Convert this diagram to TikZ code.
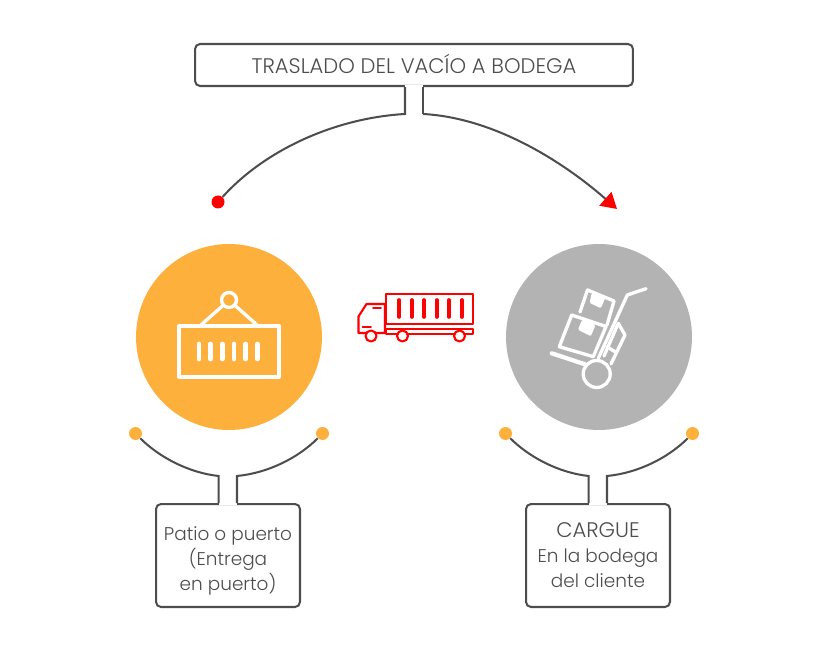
\documentclass[tikz,border=0pt]{standalone}
\usepackage{fontspec}
\setmainfont{Poppins Light}
\usetikzlibrary{arrows.meta}

\definecolor{linegray}{HTML}{4D4D4D}
\definecolor{hubgray}{HTML}{B3B3B3}
\definecolor{huborange}{HTML}{FDB03B}

\tikzset{
	line/.style={draw=linegray,line width=1.15pt},
	gap/.style={draw=white,line width=2pt},
	titlebox/.style={line,rounded corners=0.1cm,minimum width=8.76cm,minimum height=0.84cm,inner sep=0pt,text=linegray,font=\fontsize{12}{14}\selectfont},
	textbox/.style={line,rounded corners=0.1cm,minimum width=2.88cm,minimum height=2.06cm,inner sep=0pt,text=linegray,align=center,font=\fontsize{10.5}{14.2}\selectfont},
	hub/.style={shape=circle,minimum size=3.72cm,inner sep=0pt},
	reddot/.style={shape=circle,fill=red,minimum size=0.26cm,inner sep=0pt},
	orangedot/.style={shape=circle,fill=huborange,minimum size=0.26cm,inner sep=0pt},
	icon/.style={draw=white,line width=1.9pt,line cap=round,line join=round},
	truck/.style={draw=red,line width=1.2pt,line join=round,line cap=round}
}

\begin{document}
\begin{tikzpicture}[x=0.02cm,y=-0.02cm]
	\useasboundingbox (0,0) rectangle (828,651);

	% top box
	\node[titlebox] (title) at (414,65) {\raisebox{1pt}{TRASLADO DEL VACÍO A BODEGA}};
	\node[reddot] (start) at (218,202) {};
	\coordinate (topL) at (405,114);
	\coordinate (topR) at (423,114);
	\coordinate (finish) at (617,209);
	\draw[gap] (topL |- title.south) -- (topR |- title.south);
	\draw[line] (start) .. controls (265,150) and (335,118) .. (topL) -- (topL |- title.south);
	\draw[line] (title.south -| topR) -- (topR);
	\draw[line,-{Triangle[red,length=0.31cm,width=0.36cm]}] (topR) .. controls (497,118) and (567,165) .. (finish);

	% circles
	\node[hub,fill=huborange] (patio) at (229,337) {};
	\node[hub,fill=hubgray] (cargue) at (599,337) {};

	% container
	\draw[icon] (179,326) rectangle (279,377);
	\draw[icon] (229,300) circle [radius=7.5];
	\draw[icon] (201,325) -- (223.5,305);
	\draw[icon] (257,325) -- (234.5,305);
	\foreach \x in {199,210.7,222.3,234,245.7,257.3}
		\draw[icon,line width=2.7pt] (\x,344) -- (\x,359);

	% truck
	\draw[truck] (386,294) rectangle (473,324);
	\draw[truck] (386,329) rectangle (473,334);
	\foreach \x in {399,411.7,424,436.7,449,461.7}
		\draw[truck,line width=2.1pt] (\x,300) -- (\x,317);
	\draw[truck] (385,333) -- (358.5,333) -- (358.5,316.5) -- (366.5,304) -- (385,304) -- cycle;
	\draw[truck,line width=1pt] (373,307.7) -- (381,307.7);
	\draw[truck,line width=1pt] (362.5,326.7) -- (371,326.7);
	\foreach \x in {371,402.5,459.5}
		\draw[truck,fill=white] (\x,336) circle [radius=5.5];

	% hand truck
	\draw[icon] (646,288.7) -- (627.3,295) -- (598.3,358.3);
	\draw[icon] (618.3,323.3) -- (625,335) -- (611,364);
	\draw[icon] (618.3,323.3) -- (604,356);
	\draw[icon] (606.7,346.7) -- (615,351.7);
	\draw[icon] (580,312) -- (587.5,290) -- (614,301) -- (607,325);
	\draw[icon] (571.7,315) -- (606,326.5) -- (593.3,356.7) -- (559.3,346.7) -- cycle;
	\draw[icon,fill=white] (593,295) -- (591.5,302) -- (600,306) -- (603,299) -- cycle;
	\draw[icon,fill=white] (583.3,321.3) -- (580,329) -- (590,334) -- (593.5,325.7) -- cycle;
	\draw[icon,line width=2.4pt] (551.7,353.3) -- (585,364.3);
	\draw[icon,fill=hubgray] (596.7,374) circle [radius=13.5];

	% lower left
	\node[textbox] (patiotext) at (228,555.5) {\rule{0pt}{14pt}Patio o puerto\\(Entrega\\en puerto)};
	\node[orangedot] (patioL) at (135.5,433.5) {};
	\node[orangedot] (patioR) at (322.5,433.5) {};
	\coordinate (patioA) at (218.7,476);
	\coordinate (patioB) at (237,476);
	\draw[gap] (patioA |- patiotext.north) -- (patioB |- patiotext.north);
	\draw[line] (patioL) .. controls (160,458) and (190,473) .. (patioA) -- (patioA |- patiotext.north);
	\draw[line] (patioR) .. controls (298,458) and (268,473) .. (patioB) -- (patioB |- patiotext.north);

	% lower right
	\node[textbox] (carguetext) at (598,555.5) {{\fontsize{12}{14.2}\selectfont CARGUE}\\En la bodega\\del cliente};
	\node[orangedot] (cargueL) at (505.5,433.5) {};
	\node[orangedot] (cargueR) at (692.5,433.5) {};
	\coordinate (cargueA) at (588.7,476);
	\coordinate (cargueB) at (607,476);
	\draw[gap] (cargueA |- carguetext.north) -- (cargueB |- carguetext.north);
	\draw[line] (cargueL) .. controls (530,458) and (560,473) .. (cargueA) -- (cargueA |- carguetext.north);
	\draw[line] (cargueR) .. controls (668,458) and (638,473) .. (cargueB) -- (cargueB |- carguetext.north);
\end{tikzpicture}
\end{document}
